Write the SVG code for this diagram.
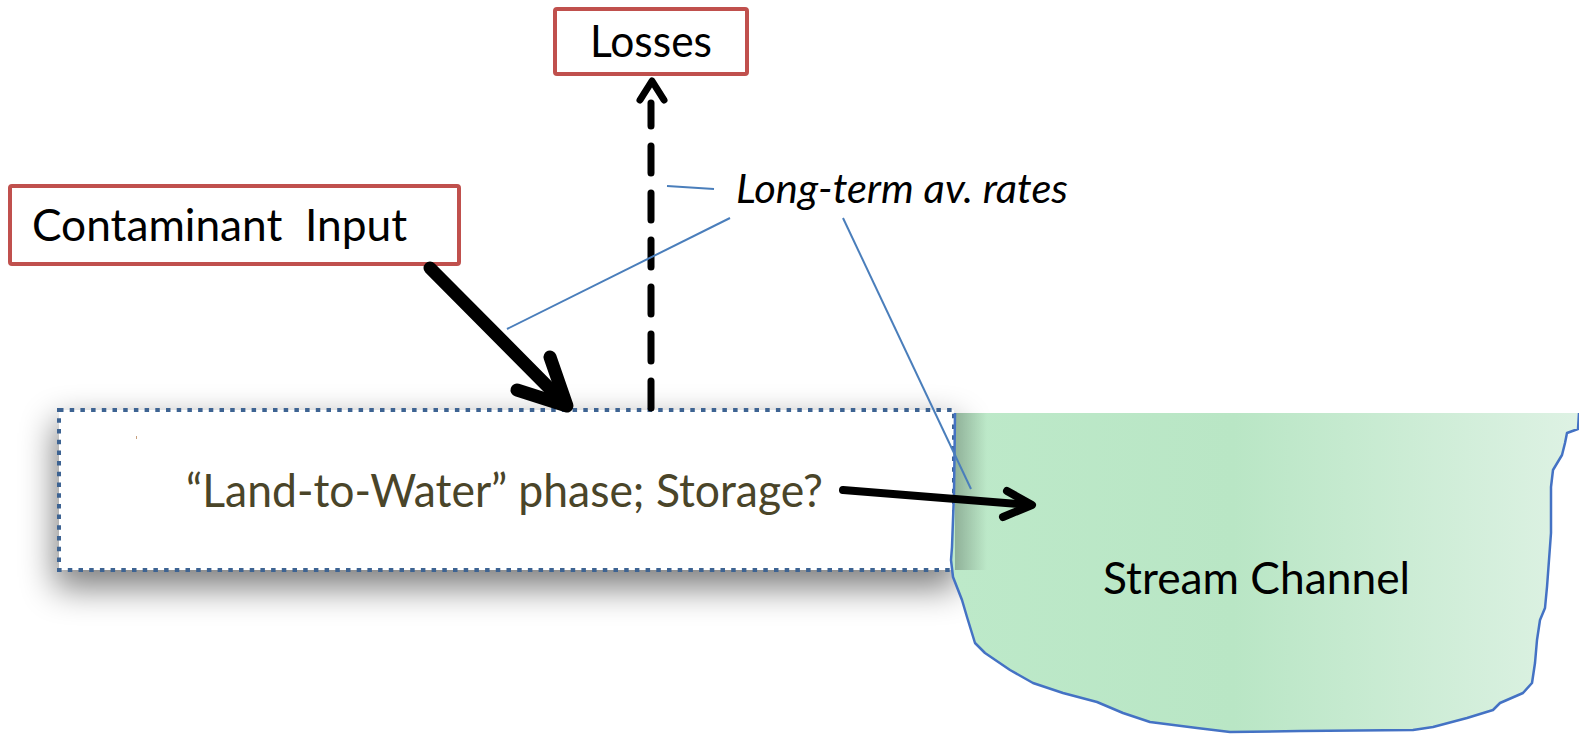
<svg xmlns="http://www.w3.org/2000/svg" width="1579" height="734" viewBox="0 0 1579 734">
  <defs>
    <style>
      .label { font-family: Lato, "Open Sans", "Liberation Sans", sans-serif; fill: #000; }
      .redbox { fill: #fff; stroke: #C0504D; stroke-width: 4; }
      .callout { stroke: #4A7EBB; stroke-width: 2; fill: none; }
      .flow { stroke: #000; fill: none; stroke-linecap: round; stroke-linejoin: round; }
    </style>
    <linearGradient id="water" x1="0" y1="0" x2="1" y2="0">
      <stop offset="0" stop-color="#BDE9C9"/>
      <stop offset="0.45" stop-color="#B9E6C5"/>
      <stop offset="1" stop-color="#DEF2E4"/>
    </linearGradient>
    <linearGradient id="edgeShade" x1="0" y1="0" x2="1" y2="0">
      <stop offset="0" stop-color="#000" stop-opacity="0.24"/>
      <stop offset="1" stop-color="#000" stop-opacity="0"/>
    </linearGradient>
    <filter id="soft" x="-10%" y="-60%" width="120%" height="220%">
      <feGaussianBlur stdDeviation="17"/>
    </filter>
  </defs>

  <rect width="1579" height="734" fill="#fff"/>

  <!-- storage phase box: drop shadow behind it -->
  <rect x="55" y="422" width="903" height="166" fill="#000" opacity="0.5" filter="url(#soft)"/>

  <g id="storage-phase">
    <rect x="59" y="410" width="895" height="160" fill="#fff" stroke="#3D6392" stroke-width="4" stroke-dasharray="4.5 6.2"/>
    <rect x="136" y="436" width="1" height="3" fill="#C8A07E"/>
    <text class="label" x="186" y="507" font-size="46" style="fill:#4A4529" textLength="637" lengthAdjust="spacingAndGlyphs">“Land-to-Water” phase; Storage?</text>
  </g>

  <g id="stream-channel">
    <path d="M955,413 L1579,413 L1578,429 L1567,433 L1565,443 L1562,455 L1553,470 L1551,487 L1551,533 L1549,560 L1547,587 L1545,608 L1540,620 L1537,640 L1535,663 L1532,683 L1523,693 L1500,703 L1493,710 L1467,718 L1433,727 L1413,730 L1300,731 L1230,732 L1197,728 L1150,722 L1123,713 L1097,702 L1063,693 L1033,683 L1010,670 L985,653 L975,643 L967,617 L962,600 L953,577 L951,560 L952,547 L954,493 Z" fill="url(#water)"/>
    <rect x="955" y="413" width="32" height="157" fill="url(#edgeShade)"/>
    <path d="M1579,413 L1578,429 L1567,433 L1565,443 L1562,455 L1553,470 L1551,487 L1551,533 L1549,560 L1547,587 L1545,608 L1540,620 L1537,640 L1535,663 L1532,683 L1523,693 L1500,703 L1493,710 L1467,718 L1433,727 L1413,730 L1300,731 L1230,732 L1197,728 L1150,722 L1123,713 L1097,702 L1063,693 L1033,683 L1010,670 L985,653 L975,643 L967,617 L962,600 L953,577 L951,560 L952,547 L954,493 L955,413" fill="none" stroke="#4472C4" stroke-width="2.5" stroke-linejoin="round"/>
    <text class="label" x="1103" y="594" font-size="45" textLength="307" lengthAdjust="spacingAndGlyphs">Stream Channel</text>
  </g>

  <g id="contaminant-input">
    <rect class="redbox" x="10" y="186" width="449" height="78" rx="2"/>
    <text class="label" x="32" y="241" font-size="45" xml:space="preserve" textLength="375" lengthAdjust="spacingAndGlyphs">Contaminant  Input</text>
  </g>

  <g id="losses">
    <rect class="redbox" x="555" y="9" width="192" height="65" rx="2"/>
    <text class="label" x="590" y="57" font-size="45" textLength="122" lengthAdjust="spacingAndGlyphs">Losses</text>
  </g>

  <g id="rates-label">
    <text class="label" x="736" y="203" font-size="40" font-style="italic" textLength="332" lengthAdjust="spacingAndGlyphs">Long-term av. rates</text>
  </g>

  <g id="connectors">
    <!-- input flow into storage -->
    <line class="flow" x1="430" y1="268" x2="566" y2="405" stroke-width="13" stroke-linecap="butt"/>
    <polyline class="flow" points="550,357 567,406 517,390" stroke-width="13"/>
    <!-- losses (dashed) -->
    <line class="flow" x1="651" y1="408" x2="651" y2="103" stroke-width="7" stroke-linecap="butt" stroke-dasharray="27 20"/>
    <polyline class="flow" points="640,100 652,81 664,100" stroke-width="7"/>
    <!-- delivery into the stream -->
    <line class="flow" x1="843" y1="490" x2="1030" y2="505" stroke-width="8" stroke-linecap="butt"/>
    <polyline class="flow" points="1007,491 1032,505 1003,517" stroke-width="8"/>
    <!-- callout lines for the rates label -->
    <line class="callout" x1="667" y1="186" x2="714" y2="189"/>
    <line class="callout" x1="730" y1="218" x2="507" y2="329"/>
    <line class="callout" x1="843" y1="218" x2="971" y2="489"/>
  </g>
</svg>
